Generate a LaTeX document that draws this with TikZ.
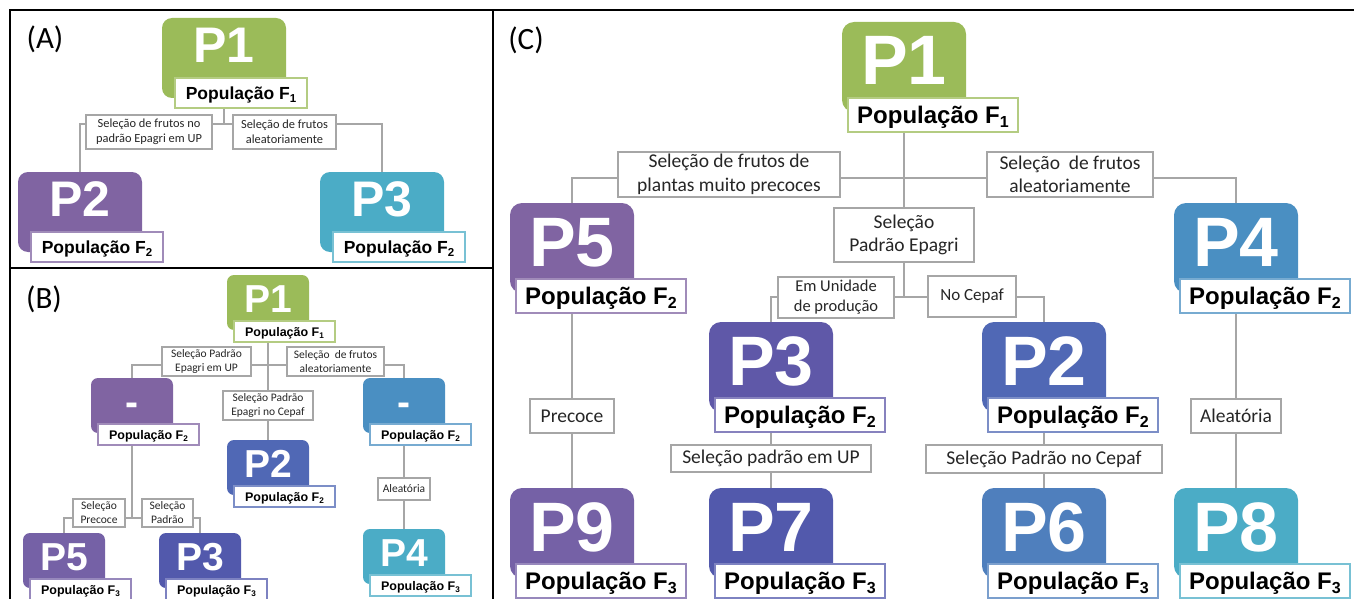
\documentclass[tikz,border=0pt]{standalone}
\usepackage{fontspec}
\setmainfont{Carlito}
\newfontfamily\lsans{Liberation Sans}
\usetikzlibrary{backgrounds}

\definecolor{cGreen}{HTML}{9BBB59}
\definecolor{cPurple}{HTML}{8064A2}
\definecolor{cTeal}{HTML}{4BACC6}
\definecolor{cSteel}{HTML}{4A8FC2}
\definecolor{cBlue}{HTML}{5068B5}
\definecolor{cBlueB}{HTML}{4F7FBD}
\definecolor{cIndigo}{HTML}{5F58A8}
\definecolor{cIndigoB}{HTML}{5259AC}
\definecolor{cViolet}{HTML}{7561A6}
\definecolor{lineGray}{HTML}{A6A6A6}
\definecolor{txtGray}{HTML}{262626}

\tikzset{
  rect/.style n args={4}{minimum width={(#3)-(#1)}, minimum height={(#4)-(#2)},
     at={({((#1)+(#3))/2},{((#2)+(#4))/2})}},
  pbox/.style={fill=#1, draw=none, inner sep=0pt, outer sep=0pt},
  glab/.style={draw=lineGray, fill=white, inner sep=0pt, align=center, text=txtGray},
  conn/.style={draw=lineGray},
  frame/.style={draw=black, line width=2.6pt},
  paneltag/.style={font=\fontsize{31}{34}\selectfont, text=black, inner sep=0pt},
}

\newcommand\fsub[1]{\raisebox{-0.17em}{\fontsize{\subsz}{\subsz}\selectfont #1}}
\newcommand\pnode[6]{%
  \node[pbox=#4, rect={#2}{#3}{#2+\bw}{#3+\bh}] (#1) {};
  \node[ptext] (#1t) at ({#2+\bw/2},{#3+\tdy}) {#5};
  \node[plab=#4, rect={#2+\ldx}{#3+\ldy}{#2+\ldx+\lw}{#3+\ldy+\lh}] (#1l) {População F\fsub{#6}};
}

\begin{document}
\begin{tikzpicture}[x=1pt, y=-1pt]
\useasboundingbox (0,0) rectangle (1354,599);

% ---------------- Panel A ----------------
\begin{scope}[
  ptext/.style={text=white, font=\lsans\bfseries\fontsize{50}{50}\selectfont, inner sep=0pt, text height=35.8pt, text depth=0pt},
  plab/.style={fill=white, draw=#1!75!white, line width=1.5pt, inner sep=0pt, font=\lsans\bfseries\fontsize{17.5}{20}\selectfont, text height=12.5pt, text depth=0pt},
  pbox/.append style={rounded corners=10pt},
  glab/.append style={line width=1.2pt, font=\fontsize{12.4}{15}\selectfont},
  conn/.append style={line width=1.5pt}]
\def\bw{124}\def\bh{80}\def\ldx{13}\def\ldy{60}\def\lw{132}\def\lh{30}\def\tdy{27}\def\subsz{11.5pt}
\node[paneltag] (tagA) at (45,39) {(A)};
\pnode{A1}{162}{18}{cGreen}{P1}{1}
\pnode{A2}{18}{172}{cPurple}{P2}{2}
\pnode{A3}{320}{172}{cTeal}{P3}{2}
\node[glab, rect={86}{115}{212}{149}] (Ag1) {Seleção de frutos no\\padrão Epagri em UP};
\node[glab, rect={233}{115}{336}{149}] (Ag2) {Seleção de frutos\\aleatoriamente};
\begin{scope}[on background layer]
\coordinate (Abus) at (A1 |- 0,124);
\draw[conn] (A1l.south -| A1) -- (Abus) -| (A2.north);
\draw[conn] (Abus) -| (A3.north);
\end{scope}
\end{scope}

% ---------------- Panel B ----------------
\begin{scope}[
  ptext/.style={text=white, font=\lsans\bfseries\fontsize{39}{39}\selectfont, inner sep=0pt, text height=27.9pt, text depth=0pt},
  plab/.style={fill=white, draw=#1!75!white, line width=1.2pt, inner sep=0pt, font=\lsans\bfseries\fontsize{12.5}{14}\selectfont, text height=9pt, text depth=0pt},
  pbox/.append style={rounded corners=7pt},
  glab/.append style={line width=1.1pt, font=\fontsize{11.5}{14}\selectfont},
  conn/.append style={line width=1.5pt}]
\def\bw{82}\def\bh{55}\def\ldx{7}\def\ldy{46}\def\lw{101}\def\lh{21}\def\tdy{24}\def\subsz{8.2pt}
\node[paneltag] (tagB) at (44,299) {(B)};
\pnode{B1}{227}{275}{cGreen}{P1}{1}
\pnode{Bm1}{91}{378}{cPurple}{-}{2}
\pnode{Bm2}{363}{378}{cSteel}{-}{2}
\pnode{B2}{227}{440}{cBlue}{P2}{2}
\pnode{B5}{23}{533}{cViolet}{P5}{3}
\pnode{B3}{159}{533}{cIndigoB}{P3}{3}
\pnode{B4}{363}{529}{cTeal}{P4}{3}
\node[glab, rect={162}{347}{251}{376}] (Bg1) {Seleção Padrão\\Epagri em UP};
\node[glab, rect={287}{347}{384}{376}] (Bg2) {Seleção\ \ de frutos\\aleatoriamente};
\node[glab, rect={223}{391}{313}{420}] (Bg3) {Seleção Padrão\\Epagri no Cepaf};
\node[glab, rect={73}{499}{125}{527}] (Bg4) {Seleção\\Precoce};
\node[glab, rect={142}{499}{193}{527}] (Bg5) {Seleção\\Padrão};
\node[glab, rect={378}{478}{430}{500}] (Bg6) {Aleatória};
\begin{scope}[on background layer]
\coordinate (Bbus) at (B1 |- 0,365);
\draw[conn] (B1l.south -| B1) -- (Bbus) -| (Bm1.north);
\draw[conn] (Bbus) -| (Bm2.north);
\draw[conn] (Bbus) -- (Bg3.north);
\draw[conn] (Bg3.south) -- (B2.north);
\coordinate (Bbus2) at (Bm1 |- 0,518);
\draw[conn] (Bm1l.south -| Bm1) -- (Bbus2) -| (B5.north);
\draw[conn] (Bbus2) -| (B3.north);
\draw[conn] (Bm2l.south -| Bm2) -- (B4.north);
\end{scope}
\end{scope}

% ---------------- Panel C ----------------
\begin{scope}[
  ptext/.style={text=white, font=\lsans\bfseries\fontsize{70}{70}\selectfont, inner sep=0pt, text height=50pt, text depth=0pt},
  plab/.style={fill=white, draw=#1!75!white, line width=2pt, inner sep=0pt, font=\lsans\bfseries\fontsize{24}{28}\selectfont, text height=17.2pt, text depth=0pt},
  pbox/.append style={rounded corners=12pt},
  glab/.append style={line width=2pt, font=\fontsize{19.5}{23.5}\selectfont},
  conn/.append style={line width=2.5pt}]
\def\bw{124}\def\bh{90}\def\ldx{6}\def\ldy{76}\def\lw{170}\def\lh{34}\def\tdy{38}\def\subsz{16pt}
\node[paneltag] (tagC) at (526,40) {(C)};
\pnode{C1}{842}{22}{cGreen}{P1}{1}
\pnode{C5}{510}{203}{cPurple}{P5}{2}
\pnode{C4}{1174}{203}{cSteel}{P4}{2}
\pnode{C3}{709}{322}{cIndigo}{P3}{2}
\pnode{C2}{982}{322}{cBlue}{P2}{2}
\pnode{C9}{510}{488}{cViolet}{P9}{3}
\pnode{C7}{709}{488}{cIndigoB}{P7}{3}
\pnode{C6}{982}{488}{cBlueB}{P6}{3}
\pnode{C8}{1174}{488}{cTeal}{P8}{3}
\node[glab, rect={618}{152}{840}{197}] (Cg1) {Seleção de frutos de\\plantas muito precoces};
\node[glab, rect={987}{152}{1153}{197}] (Cg2) {Seleção\ \ de frutos\\aleatoriamente};
\node[glab, rect={834}{208}{974}{262}] (Cg3) {Seleção\\Padrão Epagri};
\node[glab, rect={778}{277}{894}{318}, font=\fontsize{16.5}{20}\selectfont] (Cg4) {Em Unidade\\de produção};
\node[glab, rect={928}{276}{1016}{317}, font=\fontsize{17}{20}\selectfont] (Cg5) {No Cepaf};
\node[glab, rect={530}{399}{614}{433}] (Cg6) {Precoce};
\node[glab, rect={671}{445}{871}{472}] (Cg7) {Seleção padrão em UP};
\node[glab, rect={926}{445}{1162}{473}] (Cg8) {Seleção Padrão no Cepaf};
\node[glab, rect={1191}{399}{1281}{433}] (Cg9) {Aleatória};
\begin{scope}[on background layer]
\coordinate (Cbus) at (C1 |- 0,178);
\draw[conn] (C1l.south -| C1) -- (Cg3.north);
\draw[conn] (Cbus) -| (C5.north);
\draw[conn] (Cbus) -| (C4.north);
\coordinate (Cbus2) at (Cg3 |- 0,297);
\draw[conn] (Cg3.south) -- (Cbus2) -| (C3.north);
\draw[conn] (Cbus2) -| (C2.north);
\draw[conn] (C5l.south -| C5) -- (C9.north);
\draw[conn] (C3l.south -| C3) -- (C7.north);
\draw[conn] (C2l.south -| C2) -- (C6.north);
\draw[conn] (C4l.south -| C4) -- (C8.north);
\end{scope}
\end{scope}

% ---------------- Frames ----------------
\draw[frame] (10,599) -- (10,10) -- (1354,10);
\draw[frame] (10,268) -- (493,268);
\draw[frame] (493,10) -- (493,599);
\end{tikzpicture}
\end{document}
